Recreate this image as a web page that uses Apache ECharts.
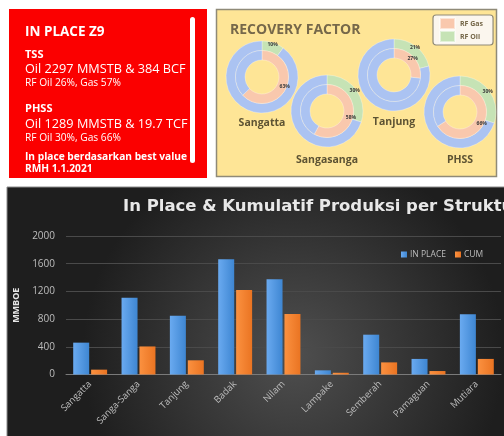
<!DOCTYPE html>
<html>
<head>
<meta charset="utf-8">
<script src="https://cdn.jsdelivr.net/npm/echarts@6/dist/echarts.min.js"></script>
<style>
html,body{margin:0;padding:0;background:#fff;}
#c{width:504px;height:436px;}
</style>
</head>
<body>
<div id="c"></div>
<script>
// ---- data ----
var categories = ['Sangatta','Sanga-Sanga','Tanjung','Badak','Nilam','Lampake','Semberah','Pamaguan','Mutiara'];
var inPlace = [460, 1110, 850, 1665, 1375, 60, 575, 225, 870];
var cum = [70, 405, 205, 1220, 875, 25, 175, 50, 225];
var yTicks = [0, 400, 800, 1200, 1600, 2000];

var rfFields = ['Sangatta','Sangasanga','Tanjung','PHSS'];
var rfOil = [10, 30, 21, 30];
var rfGas = [63, 58, 27, 66];

var infoTitle = 'IN PLACE Z9';
var infoLines = ['TSS','Oil 2297 MMSTB & 384 BCF','RF Oil 26%, Gas 57%','PHSS','Oil 1289 MMSTB & 19.7 TCF','RF Oil 30%, Gas 66%','In place berdasarkan best value','RMH 1.1.2021'];
var chartTitle = 'In Place & Kumulatif Produksi per Struktur';
var rfTitle = 'RECOVERY FACTOR';

// ---- layout / style (not data) ----
var infoStyles = [
  {y:55, size:11, weight:'bold'},
  {y:69, size:12.7, weight:'normal'},
  {y:83, size:10.2, weight:'normal'},
  {y:109, size:11, weight:'bold'},
  {y:124, size:12.7, weight:'normal'},
  {y:138, size:10.2, weight:'normal'},
  {y:157, size:10.2, weight:'bold'},
  {y:169, size:10.2, weight:'bold'}
];
var donutPos = [[262,77],[327,111],[394,75],[460,112]];
var donutLabelY = [123,160,122,160];
var FONT = '"Open Sans", "DejaVu Sans", sans-serif';

var graphic = [
  {type:'rect', z:-10, shape:{x:7, y:187, width:520, height:280},
   style:{fill:{type:'radial', x:0.55, y:0.6, r:0.75, colorStops:[{offset:0,color:'#4f4f4f'},{offset:1,color:'#1e1e1e'}]}, stroke:'#8a8a8a', lineWidth:1}},
  {type:'rect', z:-10, shape:{x:9, y:9, width:198, height:169}, style:{fill:'#fb0000'}},
  {type:'rect', z:-9, shape:{x:190, y:17, width:5, height:146, r:2.5}, style:{fill:'#ffffff'}},
  {type:'rect', z:-10, shape:{x:216.5, y:9.5, width:280, height:167}, style:{fill:'#fee596', stroke:'#8f8a78', lineWidth:1.5}},
  {type:'text', z:10, x:25, y:32, style:{text:infoTitle, fill:'#fff', font:'bold 13.5px ' + FONT, verticalAlign:'middle'}},
  {type:'text', z:10, x:230, y:30, style:{text:rfTitle, fill:'#76684a', font:'bold 14px ' + FONT, verticalAlign:'middle'}}
];
infoLines.forEach(function(t, i){
  var s = infoStyles[i];
  graphic.push({type:'text', z:10, x:25, y:s.y, style:{text:t, fill:'#fff', font:s.weight + ' ' + s.size + 'px ' + FONT, verticalAlign:'middle'}});
});
rfFields.forEach(function(n, i){
  graphic.push({type:'text', z:10, x:donutPos[i][0], y:donutLabelY[i], style:{text:n, fill:'#5d5333', font:'bold 10.5px ' + FONT, align:'center', verticalAlign:'middle'}});
});

var series = [
  {name:'IN PLACE', type:'bar', data:inPlace, barWidth:16, barGap:'12%',
   itemStyle:{color:{type:'linear',x:0,y:0,x2:1,y2:0,colorStops:[{offset:0,color:'#6aaaf0'},{offset:1,color:'#3e86d2'}]}}},
  {name:'CUM', type:'bar', data:cum, barWidth:16,
   itemStyle:{color:{type:'linear',x:0,y:0,x2:1,y2:0,colorStops:[{offset:0,color:'#fb9140'},{offset:1,color:'#ea7422'}]}}}
];
var pieLabel = {show:true, position:'inside', formatter:'{c}%', fontSize:5, fontWeight:'bold', color:'#3a3a3a', fontFamily:FONT};
rfFields.forEach(function(n, i){
  series.push({type:'pie', silent:true, center:donutPos[i], radius:[26.5,36], startAngle:90, clockwise:true,
    avoidLabelOverlap:false, labelLine:{show:false}, label:{show:false},
    itemStyle:{borderColor:'rgba(255,255,255,0.5)', borderWidth:0.6},
    data:[{name:'RF Oil', value:rfOil[i], itemStyle:{color:'#c6e3b5'}, label:pieLabel},
          {name:'sisa oil', value:100 - rfOil[i], itemStyle:{color:'#abc3f2'}}]});
  series.push({type:'pie', silent:true, center:donutPos[i], radius:[17,26.5], startAngle:90, clockwise:true,
    avoidLabelOverlap:false, labelLine:{show:false}, label:{show:false},
    itemStyle:{borderColor:'rgba(255,255,255,0.5)', borderWidth:0.6},
    data:[{name:'RF Gas', value:rfGas[i], itemStyle:{color:'#f9c8ad'}, label:pieLabel},
          {name:'sisa gas', value:100 - rfGas[i], itemStyle:{color:'#abc3f2'}}]});
});

var chart = echarts.init(document.getElementById('c'), null, {renderer:'canvas'});
chart.setOption({
  animation:false,
  backgroundColor:'#ffffff',
  graphic:graphic,
  title:{text:chartTitle, left:118, top:193, textStyle:{color:'#e8e8e8', fontSize:16.5, fontWeight:'bold', fontFamily:'"DejaVu Sans", sans-serif'}},
  legend:[
    {data:['IN PLACE','CUM'], left:396, top:245, itemWidth:6, itemHeight:6, itemGap:9, icon:'rect',
     textStyle:{color:'#bdbdbd', fontSize:8.5, fontFamily:FONT, padding:[0,0,0,-2]}},
    {data:['RF Gas','RF Oil'], orient:'vertical', left:433, top:15, itemWidth:15, itemHeight:11, itemGap:0, icon:'rect',
     backgroundColor:'#fbf6ee', borderColor:'#8f8a78', borderWidth:1.2, borderRadius:3, padding:[2,10,2,6],
     textStyle:{color:'#76684a', fontSize:7, fontWeight:'bold', fontFamily:FONT}}
  ],
  grid:{left:66, right:3, top:236, bottom:61.5, containLabel:false},
  xAxis:{type:'category', data:categories,
    axisLine:{lineStyle:{color:'#7a7a7a'}}, axisTick:{show:false},
    axisLabel:{rotate:45, interval:0, color:'#bdbdbd', fontSize:9.5, margin:8, fontFamily:FONT}},
  yAxis:{type:'value', min:yTicks[0], max:yTicks[yTicks.length-1], interval:yTicks[1]-yTicks[0],
    name:'MMBOE', nameLocation:'middle', nameGap:42, nameRotate:90,
    nameTextStyle:{color:'#e6e6e6', fontSize:9, fontWeight:'bold', fontFamily:FONT},
    axisLine:{show:false}, axisTick:{show:false},
    axisLabel:{color:'#bdbdbd', fontSize:10, margin:11, fontFamily:FONT, formatter:function(v){return String(v);}},
    splitLine:{lineStyle:{color:'#4a4a4a'}}},
  series:series
});
</script>
</body>
</html>
